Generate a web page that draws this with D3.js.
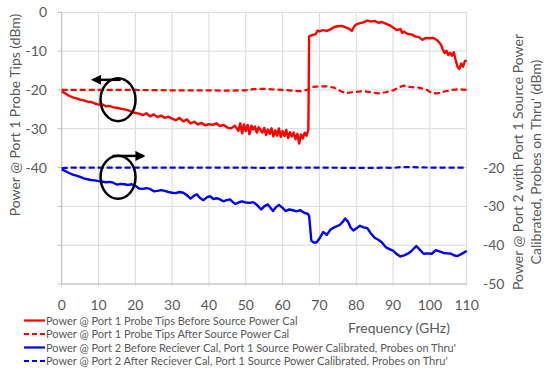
<!DOCTYPE html>
<html>
<head>
<meta charset="utf-8">
<script src="https://cdn.jsdelivr.net/npm/d3@7"></script>
<style>
body { margin: 0; background: #fff; }
text { font-family: Lato, "Open Sans", sans-serif; fill: #595959; }
</style>
</head>
<body>
<div class="chart"></div>
<script>
const width = 547;
const height = 372;

// frequency (GHz), power (dBm)
const redSolidF = [0,1,2,3,4,5,6,7,8,9,10,11,12,13,14,15,16,17,18,19,20,21,22,23,24,25,26,27,28,29,30,31,32,33,34,35,36,37,38,39,40,41,42,43,44,45,46,47,48,48.5,49,49.5,50,50.5,51,51.5,52,52.5,53,53.5,54,54.5,55,55.5,56,56.5,57,57.5,58,58.5,59,59.5,60,60.5,61,61.5,62,62.5,63,63.5,64,64.5,65,65.5,66,66.5,67,67.2,68,69,69.5,70,71,72,73,74,75,76,77,78,78.8,79.5,80,81,82,83,84,85,86,87,88,89,90,91,92,92.5,93,94,95,96,97,98,98.5,99,100,101,102,103,103.5,104,104.5,105,105.5,106,106.5,107,107.5,108,108.5,109,109.5,110];
const redSolidV = [-20.4,-20.9,-21.5,-21.9,-22.2,-22.5,-22.7,-23.0,-23.1,-23.5,-23.8,-23.7,-24.2,-24.1,-24.5,-24.6,-24.8,-25.0,-25.2,-25.7,-25.9,-26.1,-26.5,-26.0,-26.8,-26.3,-27.0,-26.6,-27.2,-26.9,-27.4,-27.8,-27.2,-28.1,-27.6,-28.6,-28.2,-28.9,-28.5,-29.1,-28.8,-29.0,-28.6,-29.3,-29.0,-29.7,-29.9,-29.2,-30.5,-28.6,-31.2,-28.9,-30.6,-29.0,-31.4,-29.2,-30.2,-29.4,-31.0,-29.6,-30.3,-31.0,-29.8,-31.6,-30.2,-31.3,-29.9,-32.0,-30.4,-31.8,-29.9,-32.1,-30.6,-31.9,-30.3,-32.4,-30.9,-32.0,-31.0,-32.7,-31.3,-33.8,-31.5,-32.5,-31.0,-31.8,-30.2,-6.2,-5.9,-5.6,-4.7,-4.9,-4.6,-4.8,-4.4,-3.8,-3.6,-3.5,-3.8,-4.2,-4.8,-3.6,-3.1,-2.8,-2.6,-2.1,-2.4,-2.2,-2.7,-2.5,-2.9,-3.3,-3.9,-4.6,-4.3,-5.3,-5.0,-5.6,-5.7,-6.2,-6.4,-7.1,-6.8,-6.6,-6.7,-6.6,-7.2,-8.3,-9.6,-10.5,-9.9,-11.0,-10.4,-11.2,-10.3,-12.3,-14.0,-14.6,-13.2,-14.0,-12.6,-12.4];

const redDashF = [0,5,10,20,30,40,45,50,52,55,58,60,63,65,67,68,70,72,74,76,77,79,80,82,84,86,88,90,92,93,95,97,99,100.5,102,104,106,108,110];
const redDashV = [-20,-20,-20,-20,-20.1,-20.1,-20.2,-20.1,-19.8,-19.7,-19.9,-20.0,-20.2,-20.3,-19.9,-19.2,-19.1,-19.1,-19.4,-20.4,-20.8,-20.6,-20.5,-20.3,-20.6,-20.9,-20.6,-20.1,-19.2,-18.9,-19.3,-19.4,-19.9,-20.8,-20.9,-20.4,-20.0,-19.8,-20.0];

// blue series are on the right axis
const blueSolidF = [0,1,2,3,4,5,6,7,8,9,10,11,12,13,14,15,16,17,18,19,20,21,22,23,24,25,26,27,28,29,30,31,32,33,34,35,36,36.7,37.5,38.5,39.5,40.3,41.2,42.1,43,43.9,44.8,45.7,46.5,47.2,48,49,50,51,52,53,54.2,55,56,57.4,58.2,59,60,60.8,61.8,62.8,63.8,64.8,66,66.8,67.2,67.8,68.4,69.2,70,71,72,73,74,75.5,76.5,77,77.8,78.5,79.2,80,81,82,83,84,85,86,87,88,89,90,91,92,93,94,95,96.3,97.3,98.3,99.5,100.5,101.6,102.6,103.7,104.8,105.8,106.5,107.5,108.5,110];
const blueSolidV = [-20.5,-20.9,-21.4,-21.8,-22.1,-22.4,-22.8,-23.0,-23.2,-23.3,-23.5,-23.6,-23.8,-23.7,-23.9,-24.4,-24.2,-24.3,-24.5,-24.3,-24.7,-25.4,-25.5,-25.3,-25.5,-26.1,-26.0,-25.8,-26.0,-26.3,-26.5,-26.6,-26.3,-26.5,-27.1,-28.0,-27.2,-26.9,-27.8,-28.4,-27.6,-27.4,-28.1,-27.9,-28.2,-28.7,-28.4,-28.2,-28.9,-29.4,-29.0,-28.7,-29.0,-29.1,-28.9,-29.6,-30.8,-30.0,-29.5,-31.2,-30.2,-29.6,-30.4,-31.2,-30.8,-31.0,-31.3,-31.0,-31.7,-31.9,-32.4,-38.8,-39.3,-39.3,-38.3,-36.6,-37.3,-36.0,-35.4,-34.8,-33.8,-33.1,-34.0,-35.5,-36.2,-35.7,-35.0,-35.4,-35.6,-37.0,-38.1,-38.6,-39.3,-40.5,-41.0,-41.4,-42.3,-42.9,-42.6,-42.2,-41.5,-40.2,-41.2,-42.2,-42.1,-42.2,-41.3,-41.6,-42.0,-42.1,-42.2,-42.6,-42.8,-42.3,-41.5];

const blueDashF = [0,1,3,10,20,30,40,50,55,60,70,80,85,88,90,92,95,100,110];
const blueDashV = [-20.2,-20.1,-20,-20,-20,-20,-20,-20,-20.1,-20,-20,-20.1,-20.1,-20,-20.1,-19.9,-19.9,-20,-20];

const xTicks = [0,10,20,30,40,50,60,70,80,90,100,110];
const leftGrid = [0,-10,-20,-30,-40,-50,-60,-70];
const leftLabels = [0,-10,-20,-30,-40];
const rightLabels = [-20,-30,-40,-50];

const legendNames = [
    "Power @ Port 1 Probe Tips Before Source Power Cal",
    "Power @ Port 1 Probe Tips After Source Power Cal",
    "Power @ Port 2 Before Reciever Cal, Port 1 Source Power Calibrated, Probes on Thru'",
    "Power @ Port 2 After Reciever Cal, Port 1 Source Power Calibrated, Probes on Thru'"
];
const legendColors = ["#ff0000", "#ff0000", "#0000ff", "#0000ff"];
const legendDashed = [false, true, false, true];

const plotLeft = 61.7, plotRight = 466.7, plotTop = 12.3, plotBottom = 284;

const x = d3.scaleLinear().domain([0, 110]).range([plotLeft, plotRight]);
const yL = d3.scaleLinear().domain([0, -70]).range([plotTop, plotBottom]);
const yR = d3.scaleLinear().domain([20, -50]).range([plotTop, plotBottom]);

const svg = d3.select('.chart').append('svg')
    .attr('width', width)
    .attr('height', height);

// grid
svg.append('g').selectAll('line').data(leftGrid).enter().append('line')
    .attr('x1', plotLeft).attr('x2', plotRight)
    .attr('y1', d => yL(d)).attr('y2', d => yL(d))
    .attr('stroke', '#d9d9d9').attr('stroke-width', 1);

svg.append('g').selectAll('line').data(xTicks).enter().append('line')
    .attr('x1', d => x(d)).attr('x2', d => x(d))
    .attr('y1', plotTop).attr('y2', plotBottom + 2)
    .attr('stroke', '#d9d9d9').attr('stroke-width', 1);

// axis lines
svg.append('line').attr('x1', plotLeft).attr('x2', plotLeft).attr('y1', plotTop).attr('y2', plotBottom)
    .attr('stroke', '#bfbfbf');
svg.append('line').attr('x1', plotLeft).attr('x2', plotRight).attr('y1', plotBottom).attr('y2', plotBottom)
    .attr('stroke', '#bfbfbf');
svg.append('g').selectAll('line').data(leftGrid).enter().append('line')
    .attr('x1', plotLeft - 4).attr('x2', plotLeft)
    .attr('y1', d => yL(d)).attr('y2', d => yL(d))
    .attr('stroke', '#bfbfbf');

// tick labels
svg.append('g').selectAll('text').data(leftLabels).enter().append('text')
    .attr('x', 47).attr('y', d => yL(d) + 5)
    .attr('text-anchor', 'end').attr('font-size', '14px')
    .text(d => d);

svg.append('g').selectAll('text').data(rightLabels).enter().append('text')
    .attr('x', 483).attr('y', d => yR(d) + 5)
    .attr('text-anchor', 'start').attr('font-size', '14px')
    .text(d => d);

svg.append('g').selectAll('text').data(xTicks).enter().append('text')
    .attr('x', d => x(d)).attr('y', 310)
    .attr('text-anchor', 'middle').attr('font-size', '14px')
    .text(d => d);

// axis titles
svg.append('text')
    .attr('transform', 'translate(20,115) rotate(-90)')
    .attr('text-anchor', 'middle').attr('font-size', '14px')
    .text('Power @ Port 1 Probe Tips (dBm)');

svg.append('text')
    .attr('transform', 'translate(523,162) rotate(-90)')
    .attr('text-anchor', 'middle').attr('font-size', '14px')
    .text('Power @ Port 2 with Port 1 Source Power');
svg.append('text')
    .attr('transform', 'translate(541,162) rotate(-90)')
    .attr('text-anchor', 'middle').attr('font-size', '14px')
    .text("Calibrated, Probes on Thru' (dBm)");

svg.append('text')
    .attr('x', 399).attr('y', 333)
    .attr('text-anchor', 'middle').attr('font-size', '14px')
    .text('Frequency (GHz)');

// series
function drawSeries(fs, vs, yScale, color, dashed, w) {
    const pts = fs.map((f, i) => [f, vs[i]]);
    const line = d3.line().x(d => x(d[0])).y(d => yScale(d[1]));
    svg.append('path')
        .datum(pts)
        .attr('d', line)
        .attr('fill', 'none')
        .attr('stroke', color)
        .attr('stroke-width', w)
        .attr('stroke-linejoin', 'round')
        .attr('stroke-dasharray', dashed ? '6,3' : null);
}

drawSeries(redDashF, redDashV, yL, '#ff0000', true, 2.2);
drawSeries(blueDashF, blueDashV, yR, '#0000ff', true, 2.2);
drawSeries(redSolidF, redSolidV, yL, '#ff0000', false, 2.4);
drawSeries(blueSolidF, blueSolidV, yR, '#0000ff', false, 2.4);

// annotations: circles with arrows showing which axis each pair uses
const defs = svg.append('defs');
defs.append('marker')
    .attr('id', 'arrow')
    .attr('viewBox', '0 0 10 10')
    .attr('refX', 8).attr('refY', 5)
    .attr('markerWidth', 4).attr('markerHeight', 4)
    .attr('orient', 'auto-start-reverse')
    .append('path').attr('d', 'M0,0 L10,5 L0,10 z').attr('fill', '#000');

const notes = [
    { f: 15.3, v: -22.5, from: 16, to: 8.5, ay: -17.4 },
    { f: 15.3, v: -42.5, from: 13.8, to: 22.2, ay: -37.0 }
];
notes.forEach(n => {
    svg.append('ellipse')
        .attr('cx', x(n.f)).attr('cy', yL(n.v))
        .attr('rx', 17.5).attr('ry', 21.5)
        .attr('fill', 'none').attr('stroke', '#000').attr('stroke-width', 2.5);
    svg.append('line')
        .attr('x1', x(n.from)).attr('x2', x(n.to))
        .attr('y1', yL(n.ay)).attr('y2', yL(n.ay))
        .attr('stroke', '#000').attr('stroke-width', 2.5)
        .attr('marker-end', 'url(#arrow)');
});

// legend
const legend = svg.append('g');
const legendY = [320.5, 334, 347.5, 361];
legendNames.forEach((name, i) => {
    legend.append('line')
        .attr('x1', 24).attr('x2', 45)
        .attr('y1', legendY[i]).attr('y2', legendY[i])
        .attr('stroke', legendColors[i]).attr('stroke-width', 2.2)
        .attr('stroke-dasharray', legendDashed[i] ? '5,3' : null);
    legend.append('text')
        .attr('x', 46).attr('y', legendY[i] + 4)
        .attr('font-size', '11px')
        .text(name);
});
</script>
</body>
</html>
